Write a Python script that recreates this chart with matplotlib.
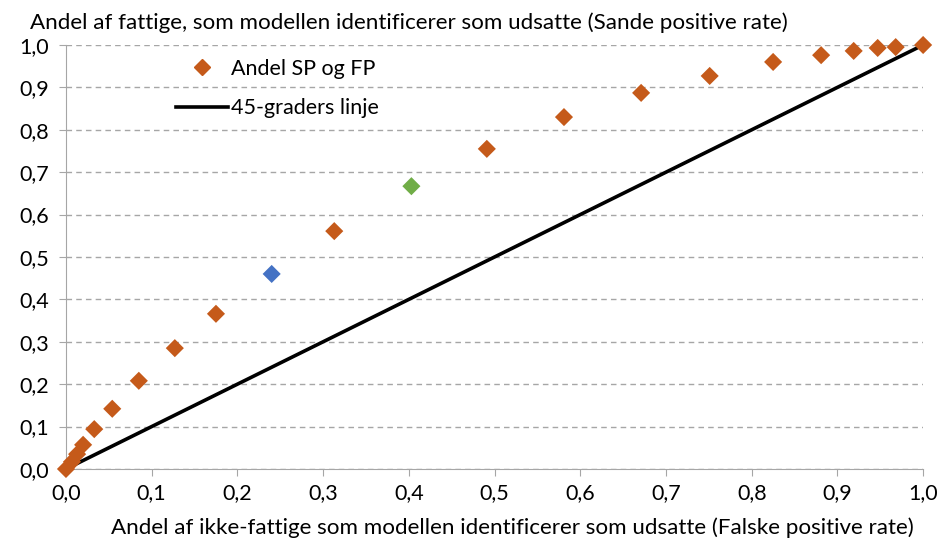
import matplotlib
matplotlib.use("Agg")
import matplotlib.pyplot as plt
from matplotlib.lines import Line2D
import numpy as np

plt.rcParams['font.family'] = ['Lato', 'DejaVu Sans']

# False positive rate (x) and true positive rate (y) per threshold
fpr = [0.0, 0.007, 0.013, 0.020, 0.033, 0.054, 0.085, 0.127, 0.175, 0.240,
       0.313, 0.403, 0.491, 0.581, 0.671, 0.751, 0.825, 0.881, 0.919, 0.947,
       0.968, 1.0]
tpr = [0.0, 0.017, 0.035, 0.057, 0.094, 0.142, 0.208, 0.285, 0.366, 0.460,
       0.561, 0.667, 0.755, 0.830, 0.887, 0.927, 0.960, 0.976, 0.986, 0.993,
       0.995, 1.0]
highlight = {9: '#4472C4', 11: '#70AD47'}
base_color = '#C55A1A'

diag = [0.0, 1.0]
xticks = np.round(np.arange(0, 1.01, 0.1), 1)
ticklabels = [f"{v:.1f}".replace('.', ',') for v in xticks]

fs = 15.5
fs_title = 16.1

fig = plt.figure(figsize=(9.41, 5.44), dpi=100)
ax = fig.add_axes([0.0701, 0.1379, 0.9109, 0.7794])

ax.plot(diag, diag, color='black', lw=2.6, zorder=2, solid_capstyle='butt')
colors = [highlight.get(i, base_color) for i in range(len(fpr))]
ax.scatter(fpr, tpr, marker='D', s=85, c=colors, edgecolors='none', zorder=3,
           clip_on=False)

ax.set_xlim(0, 1)
ax.set_ylim(0, 1)
ax.set_xticks(xticks)
ax.set_yticks(xticks)
ax.set_xticklabels(ticklabels)
ax.set_yticklabels(ticklabels)
ax.tick_params(axis='both', labelsize=fs, color='#A6A6A6', length=5,
               direction='out')
ax.tick_params(axis='y', pad=7)
ax.tick_params(axis='x', pad=5)
ax.yaxis.grid(True, linestyle=(0, (4, 3)), color='#A6A6A6', lw=1)
ax.set_axisbelow(True)
for s in ['top', 'right']:
    ax.spines[s].set_visible(False)
for s in ['left', 'bottom']:
    ax.spines[s].set_color('#A6A6A6')

fig.text(0.032, 0.947, "Andel af fattige, som modellen identificerer som udsatte (Sande positive rate)",
         fontsize=fs_title, ha='left', va='baseline')
fig.text(0.545, 0.018, "Andel af ikke-fattige som modellen identificerer som udsatte (Falske positive rate)",
         fontsize=fs_title, ha='center', va='baseline')

handles = [Line2D([], [], marker='D', color=base_color, ls='none', markersize=8),
           Line2D([], [], color='black', lw=2.6)]
ax.legend(handles, ['Andel SP og FP', '45-graders linje'], loc='upper left',
          bbox_to_anchor=(0.106, 1.013), frameon=False, fontsize=fs,
          handlelength=2.4, handletextpad=0.15, labelspacing=0.9)

fig.savefig('out.png', dpi=100)
